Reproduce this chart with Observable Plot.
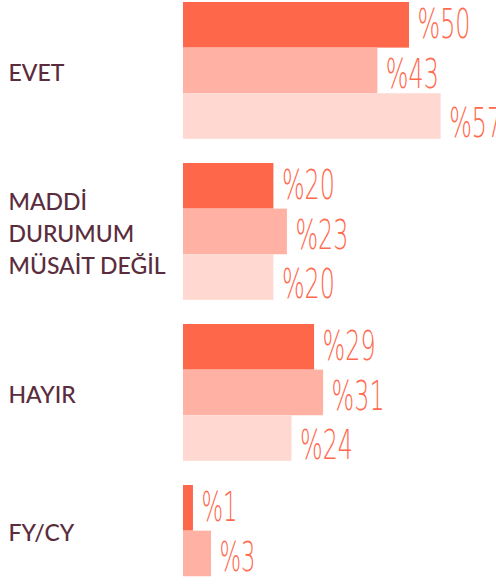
<!DOCTYPE html>
<html>
<head>
<meta charset="utf-8">
<script src="https://cdn.jsdelivr.net/npm/d3@7"></script>
<script src="https://cdn.jsdelivr.net/npm/@observablehq/plot@0.6"></script>
<style>
  html, body { margin: 0; padding: 0; background: #fff; overflow: hidden; }
</style>
</head>
<body>
<div id="chart"></div>
<script>
const groups = ["EVET", "MADDİ\nDURUMUM\nMÜSAİT DEĞİL", "HAYIR", "FY/CY"];
const seriesNames = ["Seri 1", "Seri 2", "Seri 3"];
// bar lengths as drawn
const series1 = [50, 20, 29, 2.2];
const series2 = [43, 23, 31, 6.2];
const series3 = [57, 20, 24, null];
// value labels as printed
const labels1 = [50, 20, 29, 1];
const labels2 = [43, 23, 31, 3];
const labels3 = [57, 20, 24, null];
const seriesColors = ["#ff674b", "#ffb2a4", "#ffd8d1"];

const allSeries = [series1, series2, series3];
const allLabels = [labels1, labels2, labels3];
const GAP = 0.53;
const rows = [];
groups.forEach((g, gi) => {
  let k = 0;
  allSeries.forEach((vals, si) => {
    const v = vals[gi];
    if (v == null) return;
    rows.push({group: g, gi, si, series: seriesNames[si], value: v, label: allLabels[si][gi], pos: gi * (3 + GAP) + k});
    k++;
  });
});
const groupRows = groups.map((g, gi) => {
  const n = rows.filter(r => r.gi === gi).length;
  return {group: g, center: gi * (3 + GAP) + n / 2};
});

const labelDy = [0, 4, 7];

const chart = Plot.plot({
  width: 496,
  height: 584,
  marginLeft: 183,
  marginRight: 0,
  marginTop: 2,
  marginBottom: 0,
  x: {domain: [0, 69.25], axis: null},
  y: {domain: [0, 12.76], reverse: true, axis: null},
  color: {domain: seriesNames, range: seriesColors},
  marks: [
    Plot.rect(rows, {x1: () => 0, x2: "value", y1: "pos", y2: r => r.pos + 1, fill: "series"}),
    ...seriesNames.map((s, si) => Plot.text(rows.filter(r => r.si === si), {
      x: "value", y: r => r.pos + 0.5, text: r => "%" + r.label,
      textAnchor: "start", dx: 8, dy: labelDy[si],
      fill: "#ff6a4f", fontSize: 41, fontWeight: 200,
      fontFamily: "DejaVu Sans"
    })),
    Plot.text(groupRows, {
      x: () => 0, y: "center", text: "group", frameAnchor: "left",
      textAnchor: "start", dx: -175, fill: "#5a2d3d",
      fontSize: 23, fontFamily: "Lato", fontWeight: 500, lineHeight: 1.4
    })
  ]
});

d3.select(chart).selectAll("text").each(function() {
  const t = this.textContent;
  if (t.startsWith("%")) {
    const digits = t.length - 1;
    d3.select(this).attr("textLength", 19 + 17 * digits).attr("lengthAdjust", "spacingAndGlyphs");
  }
});

document.getElementById("chart").appendChild(chart);
</script>
</body>
</html>
